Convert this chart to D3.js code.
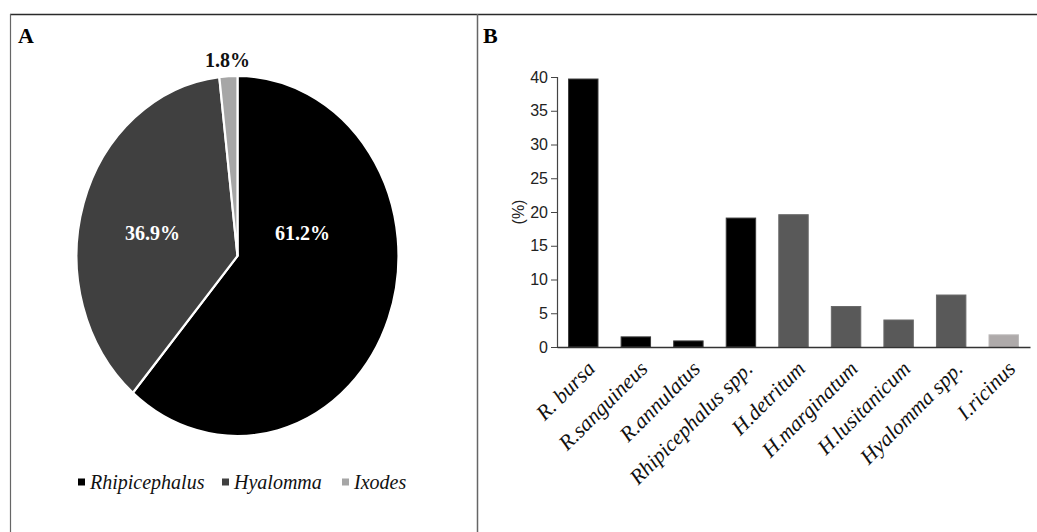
<!DOCTYPE html>
<html><head><meta charset="utf-8">
<script src="https://cdn.jsdelivr.net/npm/d3@7"></script>
<style>
html,body{margin:0;padding:0;background:#fff;}
svg{display:block;}
</style></head><body>
<svg id="c" width="1037" height="532"></svg>
<script>
// ---- data ----
const genera = ["Rhipicephalus", "Hyalomma", "Ixodes"];
const genusShare = [61.2, 36.9, 1.8];
const genusLabels = ["61.2%", "36.9%", "1.8%"];
const species = ["R. bursa", "R.sanguineus", "R.annulatus", "Rhipicephalus spp.", "H.detritum", "H.marginatum", "H.lusitanicum", "Hyalomma spp.", "I.ricinus"];
const speciesValues = [39.7, 1.5, 0.9, 19.1, 19.6, 6.0, 4.0, 7.7, 1.8];
const speciesGenus = ["Rhipicephalus","Rhipicephalus","Rhipicephalus","Rhipicephalus","Hyalomma","Hyalomma","Hyalomma","Hyalomma","Ixodes"];
const yTicks = [0, 5, 10, 15, 20, 25, 30, 35, 40];

// ---- styles ----
const pieColor = d3.scaleOrdinal().domain(genera).range(["#000000", "#404040", "#a6a6a6"]);
const barColor = d3.scaleOrdinal().domain(genera).range(["#000000", "#595959", "#aeaaaa"]);
const barStroke = d3.scaleOrdinal().domain(genera).range(["#3a3a3a", "#6a6a6a", "#bcb9b9"]);
const serif = "'Liberation Serif','Times New Roman',serif";
const sans = "'Liberation Sans',Arial,sans-serif";

const svg = d3.select("#c");

// ---- frame ----
const frame = svg.append("g");
frame.append("line").attr("x1", 10).attr("x2", 1037).attr("y1", 14.5).attr("y2", 14.5).attr("stroke", "#2a2a2a").attr("stroke-width", 1.5);
frame.append("line").attr("x1", 10.5).attr("x2", 10.5).attr("y1", 14).attr("y2", 532).attr("stroke", "#666").attr("stroke-width", 1.2);
frame.append("line").attr("x1", 477.5).attr("x2", 477.5).attr("y1", 14).attr("y2", 532).attr("stroke", "#666").attr("stroke-width", 1.5);

svg.append("text").attr("x", 18).attr("y", 43).text("A")
  .attr("font-family", serif).attr("font-weight", "bold").attr("font-size", 22);
svg.append("text").attr("x", 483).attr("y", 43).text("B")
  .attr("font-family", serif).attr("font-weight", "bold").attr("font-size", 22);

// ---- Pie (A) ----
const cx = 237.5, cy = 256, ry = 180, rx = 161;
const pie = d3.pie().sort(null).value(d => d)(genusShare);
const arc = d3.arc().innerRadius(0).outerRadius(ry);
const pg = svg.append("g").attr("transform", `translate(${cx},${cy}) scale(${rx / ry},1)`);
pg.selectAll("path").data(pie).join("path")
  .attr("d", arc)
  .attr("fill", (d, i) => pieColor(genera[i]))
  .attr("stroke", "#fff").attr("stroke-width", 2.2)
  .attr("vector-effect", "non-scaling-stroke");

const labelOffsets = [[65, -21], [-85, -21], [-10, -194]];
svg.append("g").selectAll("text").data(genusLabels).join("text")
  .attr("x", (d, i) => cx + labelOffsets[i][0])
  .attr("y", (d, i) => cy + labelOffsets[i][1])
  .attr("text-anchor", "middle").attr("dominant-baseline", "middle")
  .attr("font-family", serif).attr("font-weight", "bold").attr("font-size", 20)
  .attr("fill", (d, i) => i < 2 ? "#fff" : "#111")
  .text(d => d);

// legend
const legX = [78, 222, 342];
const lg = svg.append("g");
genera.forEach((g, i) => {
  lg.append("rect").attr("x", legX[i]).attr("y", 478.5).attr("width", 7).attr("height", 7).attr("fill", pieColor(g));
  lg.append("text").attr("x", legX[i] + 12).attr("y", 489).text(g)
    .attr("font-family", serif).attr("font-style", "italic").attr("font-size", 20).attr("fill", "#111");
});

// ---- Bars (B) ----
const x0 = 557, x1 = 1030, y0 = 347, y1 = 77;
const x = d3.scaleBand().domain(species).range([x0, x1]).paddingInner(0.44).paddingOuter(0.22);
const y = d3.scaleLinear().domain([0, 40]).range([y0, y1]);

const bg = svg.append("g");
bg.selectAll("rect").data(species).join("rect")
  .attr("x", d => x(d))
  .attr("width", x.bandwidth())
  .attr("y", (d, i) => y(speciesValues[i]))
  .attr("height", (d, i) => y0 - y(speciesValues[i]))
  .attr("fill", (d, i) => barColor(speciesGenus[i]))
  .attr("stroke", (d, i) => barStroke(speciesGenus[i])).attr("stroke-width", 1);

const yAxis = svg.append("g").attr("transform", `translate(${x0},0)`)
  .call(d3.axisLeft(y).tickValues(yTicks).tickSize(6).tickPadding(3));
yAxis.select(".domain").attr("stroke", "#444").attr("stroke-width", 1.2);
yAxis.selectAll(".tick line").attr("stroke", "#444");
yAxis.selectAll(".tick text").attr("font-family", sans).attr("font-size", 16).attr("fill", "#222");

const xAxis = svg.append("g").attr("transform", `translate(0,${y0})`)
  .call(d3.axisBottom(x).tickSize(0).tickPadding(0));
xAxis.select(".domain").attr("stroke", "#333").attr("stroke-width", 1.5);
xAxis.selectAll(".tick text")
  .attr("font-family", serif).attr("font-style", "italic").attr("font-size", 21.5).attr("fill", "#111")
  .attr("text-anchor", "end").attr("dy", null).attr("y", 0)
  .attr("transform", "translate(13,23) rotate(-45)");

svg.append("text").attr("transform", "translate(524,212) rotate(-90)")
  .attr("text-anchor", "middle").attr("font-family", sans).attr("font-size", 16).attr("fill", "#222")
  .text("(%)");
</script>
</body></html>
